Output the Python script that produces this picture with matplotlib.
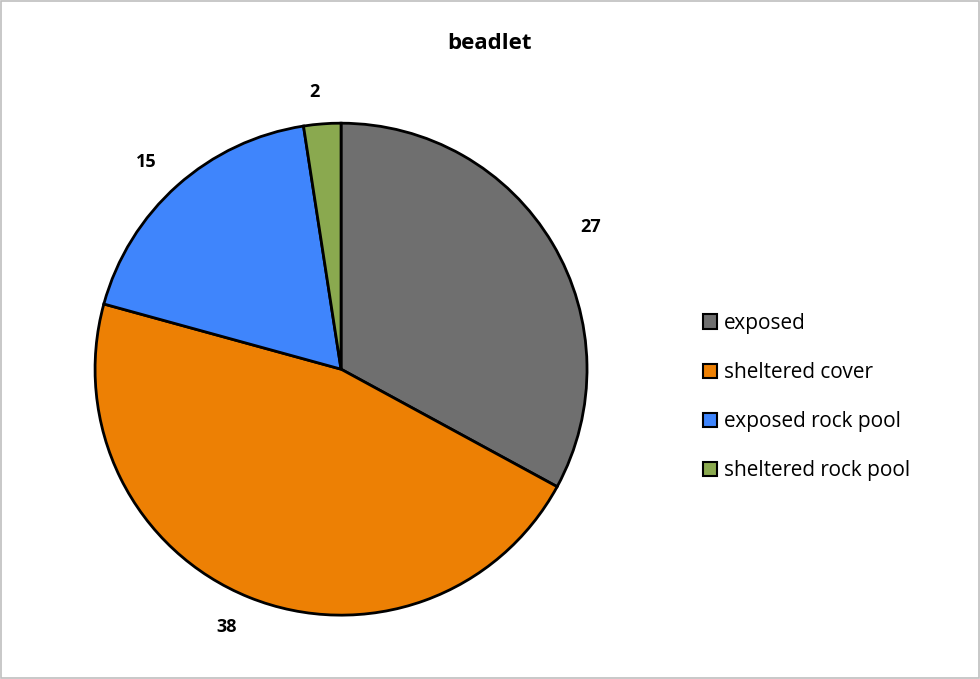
import matplotlib.pyplot as plt
from matplotlib.patches import Rectangle, Patch

plt.rcParams["font.family"] = "Open Sans"

categories = ["exposed", "sheltered cover", "exposed rock pool", "sheltered rock pool"]
values = [27, 38, 15, 2]
colors = ["#6f6f6f", "#ed8004", "#3f85fc", "#8aa94f"]

fig = plt.figure(figsize=(9.8, 6.79), dpi=100)
fig.patches.append(Rectangle((0.001, 0.001), 0.998, 0.998, transform=fig.transFigure,
                             fill=False, edgecolor="#bfbfbf", linewidth=1.2))

ax = fig.add_axes([0.097, 0.094, 0.502, 0.7246])
wedges, texts = ax.pie(values, colors=colors, startangle=90, counterclock=False,
                       labels=[str(v) for v in values], labeldistance=1.13,
                       wedgeprops=dict(edgecolor="black", linewidth=2),
                       textprops=dict(fontsize=13, fontweight="bold"))
ax.set_xlim(-1, 1)
ax.set_ylim(-1, 1)
ax.set_aspect("equal")
ax.axis("off")

fig.text(0.499, 0.936, "beadlet", ha="center", va="center", fontsize=16, fontweight="bold")

handles = [Patch(facecolor=c, edgecolor="black", linewidth=1.5) for c in colors]
fig.legend(handles, categories, loc="center left", bbox_to_anchor=(0.698, 0.415),
           frameon=False, fontsize=15, handlelength=0.7, handleheight=0.7,
           handletextpad=0.3, labelspacing=1.35)

fig.savefig("out.png", dpi=100)
